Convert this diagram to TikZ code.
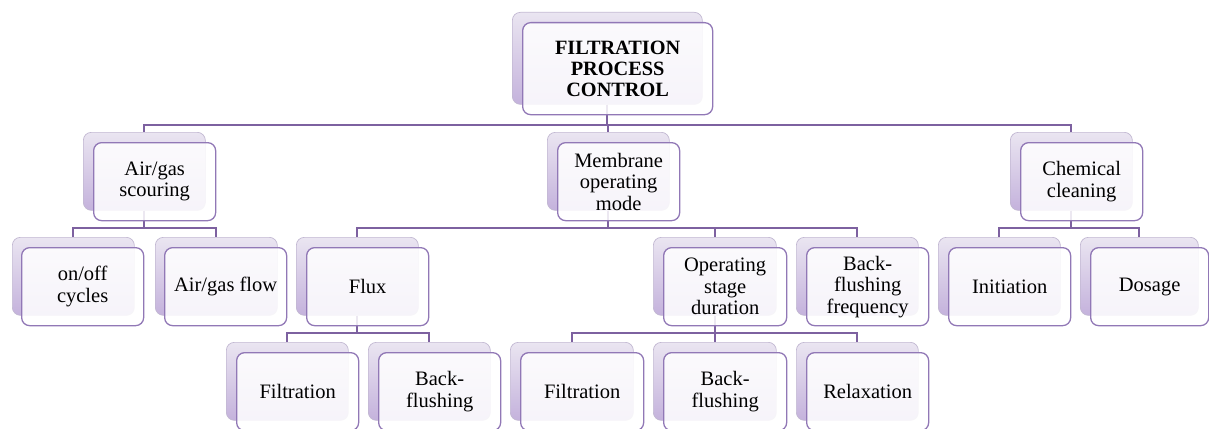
\documentclass[tikz,border=0pt]{standalone}
\usepackage{fontspec}
\setmainfont{Liberation Serif}
\definecolor{conn}{HTML}{7D61A0}
\definecolor{frontc}{HTML}{9178B6}
\definecolor{backtop}{HTML}{EAE5F1}
\definecolor{backbot}{HTML}{C4B2DC}
\definecolor{backline}{HTML}{C2B8D2}
\tikzset{
  backbox/.style={draw=backline, line width=0.7pt, rounded corners=8pt, top color=backtop, bottom color=backbot, inner sep=0pt, anchor=north west},
  frontbox/.style={draw=frontc, line width=1.3pt, rounded corners=8pt, fill=white, fill opacity=0.86, text opacity=1, inner sep=0pt, anchor=north west, align=center, text=black, font=\fontsize{20.5}{21.5}\selectfont},
  connline/.style={draw=conn, line width=2.2pt},
}
\begin{document}
\begin{tikzpicture}[x=1pt,y=-1pt]
\useasboundingbox (0,0) rectangle (1209,428);
% back boxes
\foreach \n/\x/\y/\w/\h in {top/512/12/190/92, air/83/132/122/78, mem/547/132/122/78, chem/1010/132/122/78,
  onoff/12/237/122/78, agflow/155/237/122/78, flux/296/237/122/78, osd/653/237/123/78, bff/796/237/122/78,
  init/938/237/122/78, dos/1080/237/118/78,
  filtA/226/342/122/78, bfA/368/342/122/78, filtB/510/342/123/78, bfB/653/342/123/78, relax/796/342/122/78}
  {\node[backbox, minimum width=\w pt, minimum height=\h pt] (\n-b) at (\x,\y) {};}
% bus levels
\coordinate (busT) at (0,125);
\coordinate (busL) at (0,228);
\coordinate (busB) at (0,333);
% connectors
\foreach \p/\c/\b in {top/air/busT, top/mem/busT, top/chem/busT,
  air/onoff/busL, air/agflow/busL, mem/flux/busL, mem/osd/busL, mem/bff/busL, chem/init/busL, chem/dos/busL,
  flux/filtA/busB, flux/bfA/busB, osd/filtB/busB, osd/bfB/busB, osd/relax/busB}
  {\draw[connline] (\p-b.south) -- (\p-b.south |- \b) -| (\c-b.north);}
% front boxes
\foreach \n/\x/\y/\w/\h/\t in {
  air/93/142/122/78/{Air/gas\\scouring},
  mem/557/142/122/78/{Membrane\\operating\\mode},
  chem/1020/142/122/78/{Chemical\\cleaning},
  onoff/21/247/122/78/{on/off\\cycles},
  agflow/164/247/122/78/{Air/gas flow},
  flux/306/247/122/78/{Flux},
  osd/663/247/123/78/{Operating\\stage\\duration},
  bff/806/247/122/78/{Back-\\flushing\\frequency},
  init/948/247/122/78/{Initiation},
  dos/1090/247/118/78/{Dosage},
  filtA/236/352/122/78/{Filtration},
  bfA/378/352/122/78/{Back-\\flushing},
  filtB/520/352/123/78/{Filtration},
  bfB/663/352/123/78/{Back-\\flushing},
  relax/806/352/122/78/{Relaxation}}
  {\node[frontbox, minimum width=\w pt, minimum height=\h pt] (\n) at (\x,\y) {\t};}
\node[frontbox, minimum width=190pt, minimum height=92pt, font=\fontsize{20.3}{21}\selectfont\bfseries] (top) at (522,22) {FILTRATION\\PROCESS\\CONTROL};
\end{tikzpicture}
\end{document}
